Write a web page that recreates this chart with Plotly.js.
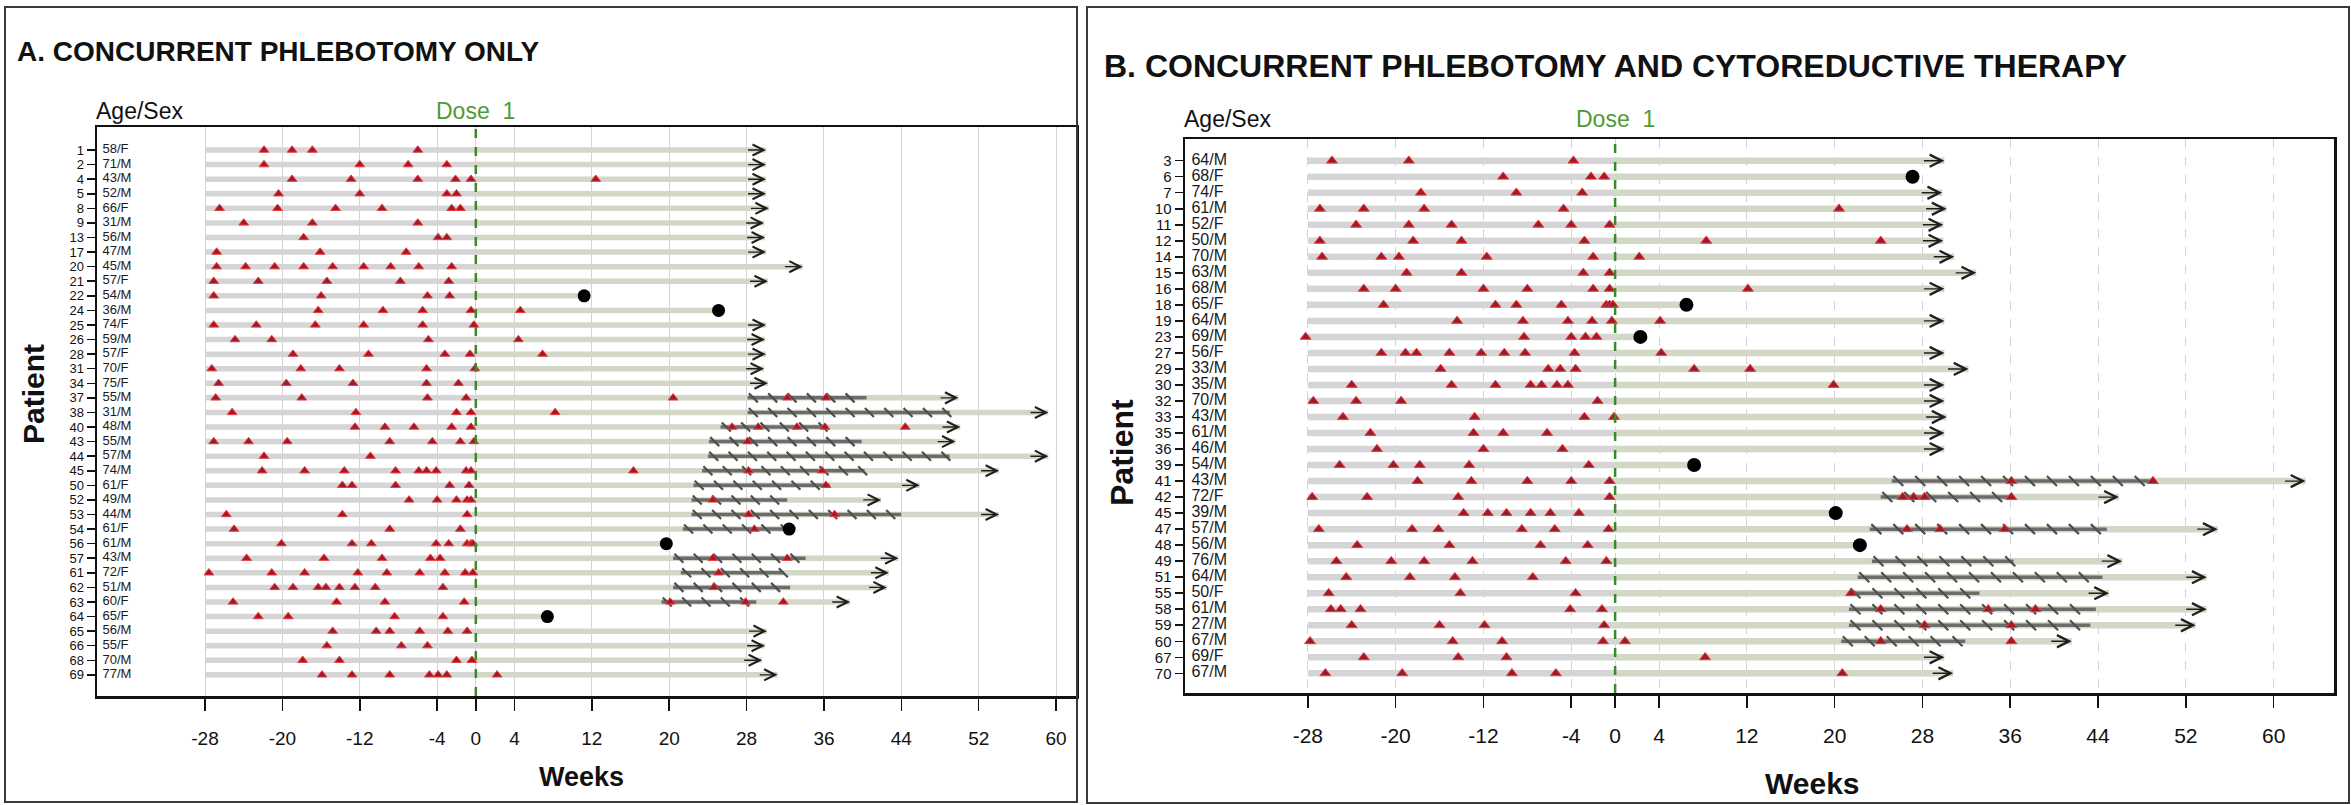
<!DOCTYPE html>
<html>
<head>
<meta charset="utf-8">
<script src="https://cdn.plot.ly/plotly-3.0.1.min.js"></script>
<style>
  html, body { margin: 0; padding: 0; background: #ffffff; }
  #chart { width: 2351px; height: 805px; }
</style>
</head>
<body>
<div id="chart"></div>
<script>
// ---------- shared ----------
const weekTicks = [-28, -20, -12, -4, 0, 4, 12, 20, 28, 36, 44, 52, 60];
const runInStart = -28;   // start of the pre-treatment phlebotomy history

// ---------- A. concurrent phlebotomy only ----------
const patientsA = [1, 2, 4, 5, 8, 9, 13, 17, 20, 21, 22, 24, 25, 26, 28, 31, 34, 37, 38, 40,
                   43, 44, 45, 50, 52, 53, 54, 56, 57, 61, 62, 63, 64, 65, 66, 68, 69];
const ageSexA = ["58/F", "71/M", "43/M", "52/M", "66/F", "31/M", "56/M", "47/M", "45/M", "57/F",
                 "54/M", "36/M", "74/F", "59/M", "57/F", "70/F", "75/F", "55/M", "31/M", "48/M",
                 "55/M", "57/M", "74/M", "61/F", "49/M", "44/M", "61/F", "61/M", "43/M", "72/F",
                 "51/M", "60/F", "65/F", "56/M", "55/F", "70/M", "77/M"];
// last week on study; "on" = continuing (arrow), "off" = discontinued (dot)
const lastWeekA = [30.0, 30.0, 30.0, 30.0, 30.3, 29.8, 29.9, 30.0, 33.8, 30.2,
                   11.2, 25.1, 30.0, 29.9, 30.0, 29.8, 30.2, 49.9, 59.2, 50.1,
                   49.6, 59.2, 54.1, 45.9, 41.9, 54.1, 32.4, 19.7, 43.7, 42.7,
                   42.5, 38.7, 7.4, 30.1, 29.9, 29.6, 31.2];
const statusA = ["on", "on", "on", "on", "on", "on", "on", "on", "on", "on",
                 "off", "off", "on", "on", "on", "on", "on", "on", "on", "on",
                 "on", "on", "on", "on", "on", "on", "off", "off", "on", "on",
                 "on", "on", "off", "on", "on", "on", "on"];
// hatched treatment period (null = none)
const periodFromA = [null, null, null, null, null, null, null, null, null, null,
                     null, null, null, null, null, null, null, 28.1, 28.1, 25.3,
                     24.1, 24.0, 23.4, 22.5, 22.3, 22.3, 21.4, null, 20.4, 21.2,
                     20.4, 19.2, null, null, null, null, null];
const periodToA = [null, null, null, null, null, null, null, null, null, null,
                   null, null, null, null, null, null, null, 40.4, 49.0, 36.2,
                   39.9, 49.0, 40.2, 36.6, 32.2, 44.0, 32.4, null, 34.1, 31.8,
                   32.5, 29.0, null, null, null, null, null];
// weeks of each phlebotomy
const phlebotomyA = [
  [-21.9, -19.0, -16.9, -6.0],
  [-21.9, -12.0, -7.0, -3.0],
  [-19.0, -12.9, -6.0, -2.1, -0.5, 12.4],
  [-20.4, -12.0, -3.0, -2.0],
  [-26.5, -20.5, -14.5, -9.7, -2.5, -1.6],
  [-24.0, -16.9, -6.0],
  [-17.8, -3.9, -3.0],
  [-26.8, -16.1, -7.2],
  [-26.8, -23.8, -20.8, -17.8, -14.8, -11.6, -8.8, -5.9, -2.5],
  [-27.1, -22.5, -15.4, -7.8, -2.8],
  [-27.1, -16.0, -5.0, -2.7],
  [-16.3, -9.6, -5.5, -0.5, 4.6],
  [-27.1, -22.7, -16.6, -11.6, -5.5, -0.2],
  [-24.9, -21.1, -4.9, 4.4],
  [-18.9, -11.1, -3.2, -0.6, 6.9],
  [-27.3, -18.1, -14.1, -5.1, -0.1],
  [-26.6, -19.6, -12.7, -5.1, -1.8],
  [-26.9, -18.0, -5.0, -1.0, 20.4, 32.2, 36.2],
  [-25.2, -12.4, -2.0, -0.5, 8.2],
  [-12.5, -9.4, -6.4, -2.5, -0.5, 26.5, 29.2, 33.2, 36.1, 44.4],
  [-27.1, -23.5, -19.5, -8.9, -4.5, -1.6, -0.2, 28.1],
  [-21.9, -10.9],
  [-22.1, -17.7, -13.6, -8.3, -5.9, -5.1, -4.1, -1.0, -0.5, 16.3, 28.2, 35.8],
  [-13.8, -12.8, -8.3, -2.7, -0.7, 36.2],
  [-6.9, -4.0, -2.0, -0.9, -0.5, 24.5],
  [-25.8, -13.8, -0.9, 28.2, 37.1],
  [-25.0, -8.9, -1.6, 28.8],
  [-20.1, -12.8, -10.8, -4.1, -2.8, -0.9, -0.5, -0.3],
  [-23.7, -15.7, -9.7, -4.7, -3.7, 24.5, 32.2],
  [-27.6, -21.1, -17.7, -12.2, -9.2, -5.8, -3.2, -1.1, -0.3, 25.1],
  [-20.8, -18.9, -16.3, -15.5, -14.1, -12.5, -10.4, -3.4, 24.6],
  [-25.1, -14.4, -9.4, -1.2, 20.1, 27.9, 31.8],
  [-22.5, -19.4, -8.4, -3.4],
  [-14.8, -10.3, -8.9, -5.8, -2.9, -0.9],
  [-15.4, -7.7, -5.0],
  [-17.9, -14.1, -2.0, -0.4],
  [-15.9, -12.8, -8.9, -4.8, -3.9, -3.0, 2.2]
];

// ---------- B. concurrent phlebotomy and cytoreductive therapy ----------
const patientsB = [3, 6, 7, 10, 11, 12, 14, 15, 16, 18, 19, 23, 27, 29, 30, 32, 33, 35, 36, 39,
                   41, 42, 45, 47, 48, 49, 51, 55, 58, 59, 60, 67, 70];
const ageSexB = ["64/M", "68/F", "74/F", "61/M", "52/F", "50/M", "70/M", "63/M", "68/M", "65/F",
                 "64/M", "69/M", "56/F", "33/M", "35/M", "70/M", "43/M", "61/M", "46/M", "54/M",
                 "43/M", "72/F", "39/M", "57/M", "56/M", "76/M", "64/M", "50/F", "61/M", "27/M",
                 "67/M", "69/F", "67/M"];
const lastWeekB = [30.0, 27.1, 29.8, 30.2, 29.9, 29.9, 30.9, 32.9, 30.0, 6.5,
                   30.0, 2.3, 30.0, 32.2, 30.0, 30.0, 30.2, 30.0, 30.0, 7.2,
                   62.9, 45.9, 20.1, 54.9, 22.3, 46.2, 53.9, 45.0, 53.9, 52.9,
                   41.6, 30.0, 30.8];
const statusB = ["on", "off", "on", "on", "on", "on", "on", "on", "on", "off",
                 "on", "off", "on", "on", "on", "on", "on", "on", "on", "off",
                 "on", "on", "off", "on", "off", "on", "on", "on", "on", "on",
                 "on", "on", "on"];
const periodFromB = [null, null, null, null, null, null, null, null, null, null,
                     null, null, null, null, null, null, null, null, null, null,
                     25.2, 24.2, null, 23.2, null, 23.4, 22.1, 21.3, 21.3, 21.3,
                     20.6, null, null];
const periodToB = [null, null, null, null, null, null, null, null, null, null,
                   null, null, null, null, null, null, null, null, null, null,
                   48.7, 36.1, null, 44.8, null, 36.3, 44.4, 33.2, 43.8, 43.3,
                   31.9, null, null];
const phlebotomyB = [
  [-25.8, -18.8, -3.8],
  [-10.2, -2.2, -1.0],
  [-17.7, -9.0, -3.0],
  [-26.9, -22.9, -17.4, -4.7, 20.4],
  [-23.6, -18.8, -14.9, -7.0, -4.0, -0.5],
  [-26.9, -18.4, -14.0, -2.8, 8.3, 24.2],
  [-26.7, -21.3, -19.7, -11.7, -2.0, 2.2],
  [-19.0, -14.0, -2.9, -0.5],
  [-22.9, -20.0, -12.0, -8.0, -2.0, -0.5, 12.1],
  [-21.1, -10.9, -9.0, -4.9, -0.8, -0.5, -0.2],
  [-14.4, -8.4, -4.3, -2.1, -0.3, 4.1],
  [-28.2, -8.3, -4.0, -2.7, -1.7],
  [-21.3, -19.1, -18.1, -15.1, -12.2, -10.1, -8.2, -3.7, 4.2],
  [-15.9, -6.1, -5.0, -3.6, 7.2, 12.3],
  [-24.0, -14.9, -10.9, -7.7, -6.7, -5.3, -4.3, 19.9],
  [-27.5, -23.6, -19.5, -1.6],
  [-24.8, -12.8, -2.8, -0.1],
  [-22.3, -12.9, -10.2, -6.2],
  [-21.7, -12.0, -4.8],
  [-25.1, -20.2, -17.8, -13.3, -2.4],
  [-18.0, -13.1, -8.0, -4.0, -0.5, 36.1, 49.0],
  [-27.6, -22.6, -14.3, -0.5, 26.2, 27.2, 28.2, 36.1],
  [-13.8, -11.6, -9.9, -7.7, -5.9, -3.3],
  [-27.0, -18.5, -16.1, -8.5, -5.5, -0.6, 26.6, 29.6, 35.5],
  [-23.5, -15.1, -6.8, -2.5],
  [-25.4, -20.4, -17.4, -13.0, -4.5, -0.8],
  [-24.5, -18.7, -14.6, -7.5],
  [-26.1, -14.1, -3.6, 21.5],
  [-25.9, -25.0, -23.2, -4.1, -1.2, 24.2, 34.0, 38.3],
  [-24.0, -16.0, -11.9, -1.0, 28.2, 36.1],
  [-27.8, -14.8, -10.3, -1.1, 0.9, 24.2, 36.1],
  [-22.9, -14.3, -9.9, 8.2],
  [-26.4, -19.4, -9.4, -5.4, 20.7]
];

// ---------- drawing helpers ----------
const FONT = "'Liberation Sans', Arial, Helvetica, sans-serif";
const W = 2351, H = 805;
const px = v => v / W;          // pixel -> paper x
const py = v => 1 - v / H;      // pixel -> paper y

function buildPanel(p, xa, ya) {
  const pre = { x: [], y: [] }, post = { x: [], y: [] }, seg = { x: [], y: [] };
  const hatch = { x: [], y: [] }, ph = { x: [], y: [] }, dot = { x: [], y: [] };
  const arrows = [];
  p.ids.forEach((id, i) => {
    const end = p.last[i];
    pre.x.push(runInStart, 0, null); pre.y.push(i, i, null);
    post.x.push(0, end, null); post.y.push(i, i, null);
    if (p.from[i] !== null) {
      seg.x.push(p.from[i], p.to[i], null); seg.y.push(i, i, null);
      // diagonal hatch marks along the period, one every two weeks
      for (let w = p.from[i] + 0.6; w <= p.to[i]; w += 2) { hatch.x.push(w); hatch.y.push(i); }
    }
    p.phleb[i].forEach(w => { ph.x.push(w); ph.y.push(i); });
    if (p.status[i] === "off") {
      dot.x.push(end); dot.y.push(i);
    } else {
      // open chevron arrow: still on study
      arrows.push({
        xref: xa, yref: ya, axref: xa, ayref: ya,
        x: end, y: i, ax: end - 2.0, ay: i,
        text: "", showarrow: true, arrowhead: 5,
        arrowsize: p.s.arrowSize, arrowwidth: 1.4, arrowcolor: "#1e1e1e"
      });
    }
  });
  const common = { xaxis: xa, yaxis: ya, hoverinfo: "skip", showlegend: false };
  const traces = [
    Object.assign({ type: "scatter", mode: "lines", x: pre.x, y: pre.y,
      line: { color: "#d5d5d5", width: p.s.bar } }, common),
    Object.assign({ type: "scatter", mode: "lines", x: post.x, y: post.y,
      line: { color: "#d3d8c6", width: p.s.bar } }, common),
    Object.assign({ type: "scatter", mode: "lines", x: seg.x, y: seg.y,
      line: { color: "#6c6c6c", width: 3.5 } }, common),
    Object.assign({ type: "scatter", mode: "markers", x: hatch.x, y: hatch.y,
      marker: { symbol: "line-nw", size: p.s.hatch, line: { color: "#4e4e4e", width: 2.2 } } }, common),
    Object.assign({ type: "scatter", mode: "markers", x: ph.x, y: ph.y,
      marker: { symbol: "triangle-up", size: p.s.tri, color: "#9c1a2a",
                line: { color: "#ee3b3b", width: 1 } } }, common),
    Object.assign({ type: "scatter", mode: "markers", x: dot.x, y: dot.y,
      marker: { symbol: "circle", size: p.s.dot, color: "#000000" } }, common),
    Object.assign({ type: "scatter", mode: "text", x: p.ids.map(() => -38.6), y: p.ids.map((d, i) => i),
      text: p.ageSex, textposition: "middle right",
      textfont: { family: FONT, size: p.s.label, color: "#1a1a1a" } }, common)
  ];
  return { traces, arrows };
}

const A = buildPanel({ ids: patientsA, ageSex: ageSexA, last: lastWeekA, status: statusA,
  from: periodFromA, to: periodToA, phleb: phlebotomyA,
  s: { bar: 5.5, tri: 8.5, dot: 13, hatch: 9, label: 13, arrowSize: 1.55 } }, "x", "y");
const B = buildPanel({ ids: patientsB, ageSex: ageSexB, last: lastWeekB, status: statusB,
  from: periodFromB, to: periodToB, phleb: phlebotomyB,
  s: { bar: 6.5, tri: 9.5, dot: 14, hatch: 10, label: 16, arrowSize: 1.7 } }, "x2", "y2");

function xAxis(domain, range, fontSize, standoff, dash) {
  return {
    domain, range, tickvals: weekTicks, ticktext: weekTicks.map(String),
    ticks: "outside", ticklen: 12, tickwidth: 1.5, tickcolor: "#111",
    tickfont: { family: FONT, size: fontSize, color: "#111" }, ticklabelstandoff: standoff,
    showline: true, linecolor: "#111", linewidth: 2.5, mirror: true,
    showgrid: true, gridcolor: "#d4d4d4", gridwidth: 1, griddash: dash,
    zeroline: false, fixedrange: true
  };
}
function yAxis(domain, range, ids, fontSize, anchor) {
  return {
    domain, range, anchor, tickvals: ids.map((d, i) => i), ticktext: ids.map(String),
    ticks: "outside", ticklen: 8, tickwidth: 1.5, tickcolor: "#111",
    tickfont: { family: FONT, size: fontSize, color: "#111" },
    showline: true, linecolor: "#111", linewidth: 2.5, mirror: true,
    showgrid: false, zeroline: false, fixedrange: true
  };
}

const doseLine = (xa, ya) => ({
  type: "line", xref: xa, yref: ya + " domain", x0: 0, x1: 0, y0: 0, y1: 1,
  line: { color: "#3b8a2a", width: 2.5, dash: "dash" }, layer: "above"
});

const text = (t, x, y, size, opts) => Object.assign({
  text: t, xref: "paper", yref: "paper", x: px(x), y: py(y), showarrow: false,
  xanchor: "center", yanchor: "middle", font: { family: FONT, size, color: "#111" }
}, opts || {});

const layout = {
  width: W, height: H, autosize: false,
  margin: { l: 0, r: 0, t: 0, b: 0, pad: 0 },
  paper_bgcolor: "#ffffff", plot_bgcolor: "#ffffff",
  font: { family: FONT },
  xaxis: Object.assign(xAxis([px(97), px(1076)], [-39.17, 62.06], 19, 12, "solid"), { anchor: "y" }),
  yaxis: yAxis([py(696), py(127)], [37.45, -1.58], patientsA, 13, "x"),
  xaxis2: Object.assign(xAxis([px(1185), px(2334)], [-39.19, 65.5], 21, 10, "dash"), { anchor: "y2" }),
  yaxis2: yAxis([py(693), py(139)], [33.23, -1.355], patientsB, 15, "x2"),
  shapes: [
    doseLine("x", "y"), doseLine("x2", "y2"),
    { type: "rect", xref: "paper", yref: "paper", x0: px(5), x1: px(1077), y0: py(802), y1: py(7),
      line: { color: "#3a3a3a", width: 2 }, fillcolor: "rgba(0,0,0,0)", layer: "above" },
    { type: "rect", xref: "paper", yref: "paper", x0: px(1087), x1: px(2349), y0: py(803), y1: py(7),
      line: { color: "#3a3a3a", width: 2 }, fillcolor: "rgba(0,0,0,0)", layer: "above" }
  ],
  annotations: [
    text("<b>A. CONCURRENT PHLEBOTOMY ONLY</b>", 15, 52, 28, { xanchor: "left" }),
    text("<b>B. CONCURRENT PHLEBOTOMY AND CYTOREDUCTIVE THERAPY</b>", 1102, 66, 32, { xanchor: "left" }),
    text("Age/Sex", 94, 111, 23, { xanchor: "left" }),
    text("Age/Sex", 1182, 119, 23, { xanchor: "left" }),
    { text: "Dose  1", xref: "x", yref: "paper", x: 0, y: py(111), showarrow: false,
      xanchor: "center", yanchor: "middle", font: { family: FONT, size: 23, color: "#4f9a33" } },
    { text: "Dose  1", xref: "x2", yref: "paper", x: 0, y: py(119), showarrow: false,
      xanchor: "center", yanchor: "middle", font: { family: FONT, size: 23, color: "#4f9a33" } },
    text("<b>Weeks</b>", 581, 777, 27),
    text("<b>Weeks</b>", 1812, 783, 30),
    text("<b>Patient</b>", 33, 394, 30, { textangle: -90 }),
    text("<b>Patient</b>", 1122, 453, 32, { textangle: -90 })
  ].concat(A.arrows, B.arrows)
};

Plotly.newPlot("chart", A.traces.concat(B.traces), layout,
  { displayModeBar: false, staticPlot: true });
</script>
</body>
</html>
